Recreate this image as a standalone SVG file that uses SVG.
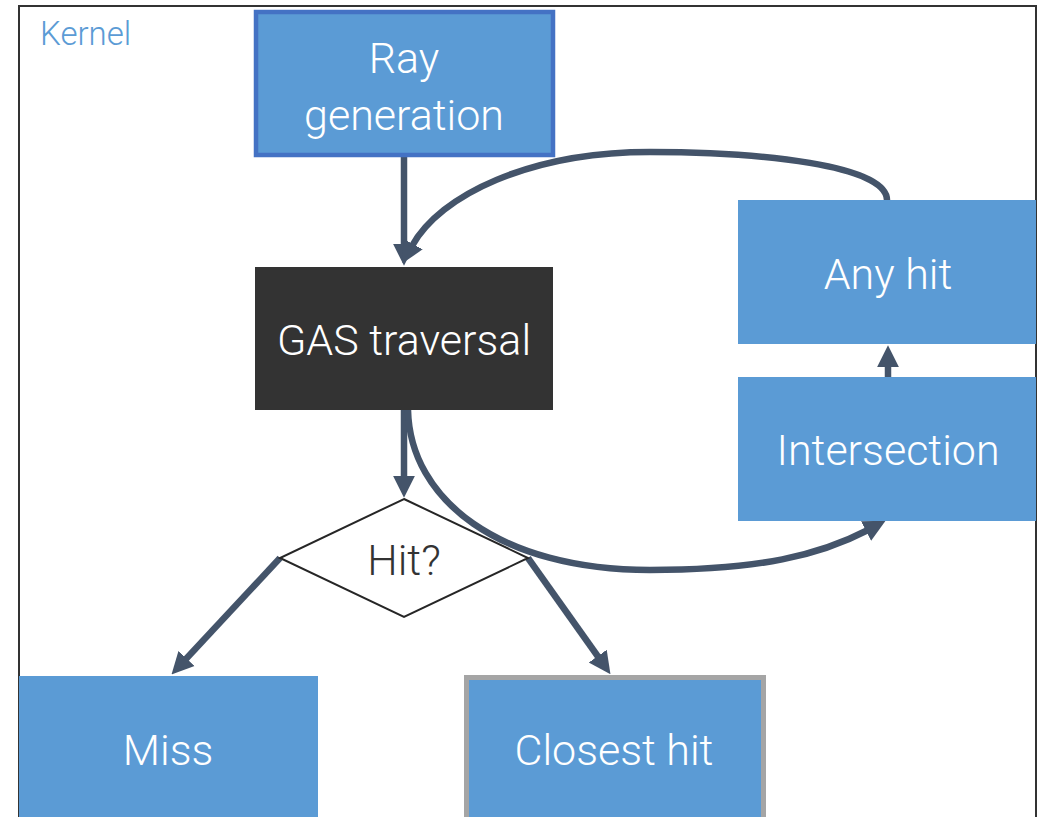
<svg xmlns="http://www.w3.org/2000/svg" width="1048" height="817" viewBox="0 0 1048 817">
  <style>
    .node { fill: #5b9bd5; }
    .lbl { font-family: Roboto, "Liberation Sans", sans-serif; font-weight: 300; font-size: 43px; fill: #ffffff; text-anchor: middle; dominant-baseline: central; }
    .conn { fill: none; stroke: #44546a; stroke-width: 6.5; }
  </style>
  <defs>
    <marker id="ah" viewBox="0 0 10 10" refX="1" refY="5" markerUnits="userSpaceOnUse" markerWidth="22" markerHeight="24" orient="auto">
      <path d="M0,0 L10,5 L0,10 z" fill="#44546a"/>
    </marker>
  </defs>
  <rect width="1048" height="817" fill="#ffffff"/>
  <g id="kernel">
    <rect x="19" y="6" width="1017" height="840" fill="none" stroke="#333333" stroke-width="2"/>
    <text x="40" y="45" font-family="Roboto, 'Liberation Sans', sans-serif" font-weight="300" font-size="33" fill="#5b9bd5">Kernel</text>
  </g>
  <g id="connectors">
    <path class="conn" d="M404,157 L404,246" marker-end="url(#ah)"/>
    <path class="conn" d="M887,200 C887,165 760,152 650,152 C530,152 440,195 412,246" marker-end="url(#ah)"/>
    <path class="conn" d="M404,410 L404,478" marker-end="url(#ah)"/>
    <path class="conn" d="M408,410 C410,500 500,570 650,570 C760,570 820,555 868,530" marker-end="url(#ah)"/>
    <path class="conn" d="M280,558 L185,660" marker-end="url(#ah)"/>
    <path class="conn" d="M528,558 L599,658" marker-end="url(#ah)"/>
    <path class="conn" d="M888,377 L888,365" marker-end="url(#ah)"/>
  </g>
  <g id="ray-generation">
    <rect class="node" x="256" y="12" width="297" height="143" stroke="#4472c4" stroke-width="4.5"/>
    <text class="lbl" x="404" y="58">Ray</text>
    <text class="lbl" x="404" y="115">generation</text>
  </g>
  <g id="gas-traversal">
    <rect x="255" y="267" width="298" height="143" fill="#333333"/>
    <text class="lbl" x="404" y="340">GAS traversal</text>
  </g>
  <g id="any-hit">
    <rect class="node" x="738" y="200" width="298" height="144"/>
    <text class="lbl" x="888" y="274">Any hit</text>
  </g>
  <g id="intersection">
    <rect class="node" x="738" y="377" width="298" height="144"/>
    <text class="lbl" x="888" y="450">Intersection</text>
  </g>
  <g id="hit">
    <polygon points="404,499 528,558 404,617 280,558" fill="#ffffff" stroke="#262626" stroke-width="2"/>
    <text class="lbl" x="404" y="560" style="fill:#333333;font-size:43px">Hit?</text>
  </g>
  <g id="miss">
    <rect class="node" x="19" y="676" width="299" height="200"/>
    <text class="lbl" x="168" y="750">Miss</text>
  </g>
  <g id="closest-hit">
    <rect class="node" x="466.5" y="677.5" width="297" height="200" stroke="#a5a5a5" stroke-width="5"/>
    <text class="lbl" x="614" y="750">Closest hit</text>
  </g>
</svg>
